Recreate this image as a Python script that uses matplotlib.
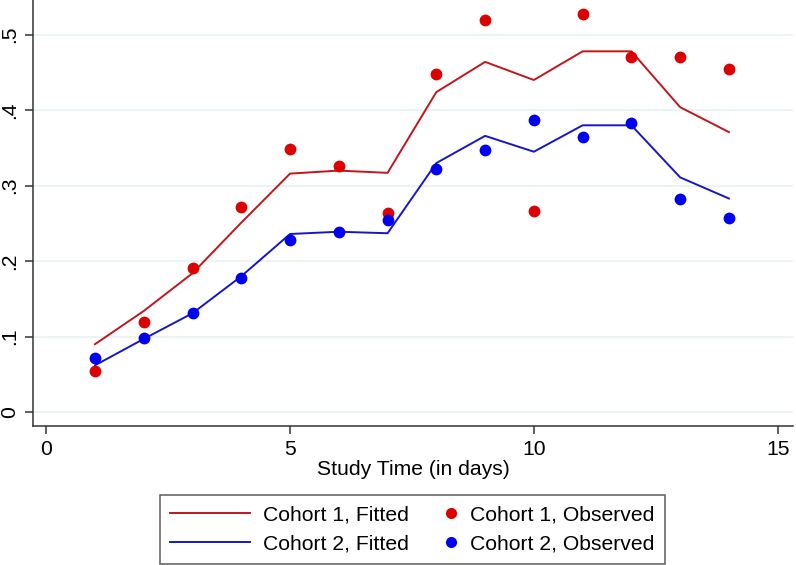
import matplotlib.pyplot as plt
from matplotlib.legend_handler import HandlerLine2D
from matplotlib.lines import Line2D

plt.rcParams["font.family"] = ["Liberation Sans", "DejaVu Sans"]

days = [1, 2, 3, 4, 5, 6, 7, 8, 9, 10, 11, 12, 13, 14]

cohort1_observed = [0.054, 0.119, 0.191, 0.272, 0.348, 0.326, 0.264,
                    0.448, 0.520, 0.267, 0.527, 0.470, 0.470, 0.455]
cohort1_fitted = [0.090, 0.134, 0.184, 0.251, 0.316, 0.320, 0.317,
                  0.424, 0.464, 0.440, 0.478, 0.478, 0.404, 0.371]

cohort2_observed = [0.072, 0.098, 0.131, 0.178, 0.228, 0.238, 0.254,
                    0.322, 0.347, 0.387, 0.364, 0.383, 0.282, 0.257]
cohort2_fitted = [0.062, 0.097, 0.131, 0.180, 0.236, 0.239, 0.237,
                  0.330, 0.366, 0.345, 0.380, 0.380, 0.311, 0.283]

y_ticks = [0, 0.1, 0.2, 0.3, 0.4, 0.5]
y_tick_labels = ["0", ".1", ".2", ".3", ".4", ".5"]
x_ticks = [0, 5, 10, 15]

red_line = "#c0161c"
red_marker = "#dc0000"
blue_line = "#1616c8"
blue_marker = "#0000f0"
font_size = 15.2


class RightMarkerHandler(HandlerLine2D):
    """Draw the legend marker at the right end of the handle box."""

    def create_artists(self, legend, orig_handle, xdescent, ydescent,
                       width, height, fontsize, trans):
        marker = Line2D([width - xdescent - 0.3 * fontsize],
                        [(height - ydescent) / 2])
        self.update_prop(marker, orig_handle, legend)
        marker.set_transform(trans)
        return [marker]


figure = plt.figure(figsize=(7.96, 5.65), dpi=100)
axis = figure.add_axes([0.0415, 0.2465, 0.9545, 0.7535])

axis.plot(days, cohort1_fitted, color=red_line, linewidth=1.4, zorder=3)
axis.plot(days, cohort2_fitted, color=blue_line, linewidth=1.4, zorder=3)
axis.plot(days, cohort1_observed, linestyle="none", marker="o",
          markersize=8.5, color=red_marker, markeredgewidth=0, zorder=4)
axis.plot(days, cohort2_observed, linestyle="none", marker="o",
          markersize=8.5, color=blue_marker, markeredgewidth=0, zorder=4)

axis.set_xlim(-0.27, 15.31)
axis.set_ylim(-0.018, 0.546)

axis.set_xticks(x_ticks)
axis.set_yticks(y_ticks)
axis.set_yticklabels(y_tick_labels, rotation=90, va="center")
axis.tick_params(axis="both", direction="out", length=6, width=1.1,
                 color="#333333", labelsize=font_size, pad=4)

axis.grid(axis="y", color="#eaf2f3", linewidth=1.3)
axis.set_axisbelow(True)
for side in ["top", "right"]:
    axis.spines[side].set_visible(False)
for side in ["left", "bottom"]:
    axis.spines[side].set_color("#333333")
    axis.spines[side].set_linewidth(1.1)

axis.set_xlabel("Study Time (in days)", fontsize=font_size, labelpad=1)

handles = [
    Line2D([], [], color=red_line, linewidth=1.4),
    Line2D([], [], color=blue_line, linewidth=1.4),
    Line2D([], [], linestyle="none", marker="o", markersize=8,
           color=red_marker, markeredgewidth=0),
    Line2D([], [], linestyle="none", marker="o", markersize=8,
           color=blue_marker, markeredgewidth=0),
]
labels = [
    "Cohort 1, Fitted",
    "Cohort 2, Fitted",
    "Cohort 1, Observed",
    "Cohort 2, Observed",
]
legend = figure.legend(
    handles,
    labels,
    ncol=2,
    loc="upper center",
    bbox_to_anchor=(0.518, 1 - 495 / 565),
    fontsize=font_size,
    frameon=True,
    fancybox=False,
    edgecolor="#333333",
    handlelength=3.8,
    handletextpad=0.6,
    columnspacing=-1.5,
    labelspacing=0.47,
    borderpad=0.5,
    borderaxespad=0,
    handler_map={handles[2]: RightMarkerHandler(),
                 handles[3]: RightMarkerHandler()},
)
legend.get_frame().set_linewidth(1.1)

figure.savefig("out.png", dpi=100)
plt.close(figure)
